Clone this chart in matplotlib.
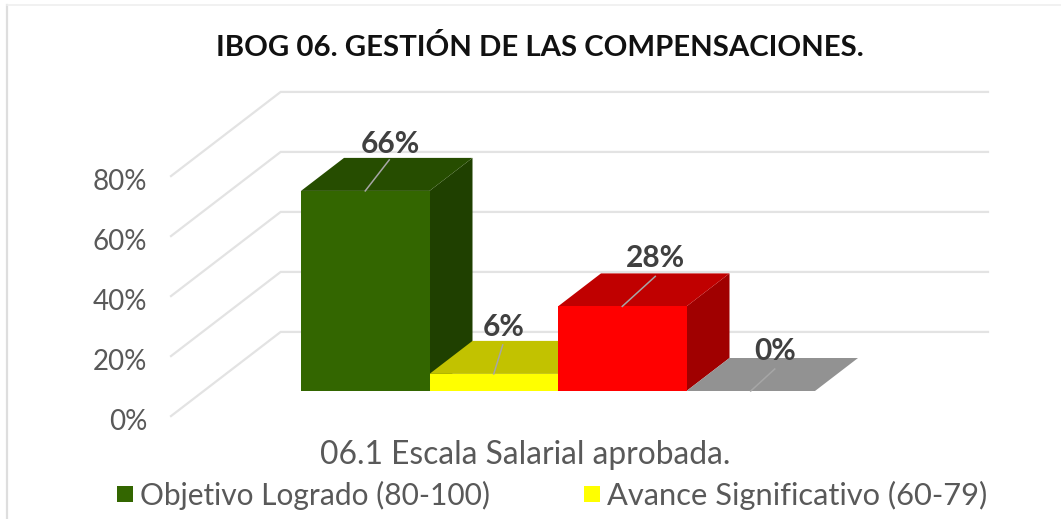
import matplotlib
matplotlib.use("Agg")
import matplotlib.pyplot as plt
from matplotlib.patches import Polygon, Rectangle


TITLE = "IBOG 06. GESTIÓN DE LAS COMPENSACIONES."
CATEGORY = "06.1 Escala Salarial aprobada."
SERIES_NAMES = ["Objetivo Logrado (80-100)", "Avance Significativo (60-79)", "No Logrado", "Sin Avance"]
VALUES = [66.7, 5.7, 28.2, 0]
VALUE_LABELS = ["66%", "6%", "28%", "0%"]
TICKS = [0, 20, 40, 60, 80]
TICK_LABELS = ["0%", "20%", "40%", "60%", "80%"]

FRONT_COLORS = ["#336600", "#ffff00", "#ff0000", "#a6a6a6"]
TOP_COLORS = ["#264d00", "#c2c200", "#c00000", "#929292"]
SIDE_COLORS = ["#1f4000", "#a3a300", "#a00000", "#7f7f7f"]

W, H = 1061, 519
BAR_PX, UNIT_PX = 128.5, 3.0
X0_PX, Y0_PX = 301, 391
DX, DY = 43 / BAR_PX, 33 / UNIT_PX  # depth of one bar, in data units
WALL_FRONT, WALL_BACK = -0.76, 1.79
GRID_COLOR = "#e3e3e3"
BORDER_COLOR = "#dedede"
LEADER_COLOR = "#a6a6a6"
TEXT_COLOR = "#595959"
LABEL_COLOR = "#404040"
# leader end and label centre relative to the bar's front top centre (px)
LEADER_ENDS = [(24, -31), (9, -29), (33, -30), (24, -22)]
LABEL_OFFSETS = [(25, -47), (10, -47), (33, -48), (24, -40)]
# legend: square x, text x, font size
LEGEND_LAYOUT = [(117, 140, 21.5), (584, 607, 22.2)]

plt.rcParams["font.family"] = ["Lato", "DejaVu Sans"]


def project(x, value, depth=0.0):
    return x + depth * DX, value + depth * DY


def draw_bar(ax, i, value):
    left, right = i, i + 1
    front = [project(left, 0), project(right, 0), project(right, value), project(left, value)]
    top = [project(left, value), project(right, value), project(right, value, 1), project(left, value, 1)]
    side = [project(right, 0), project(right, 0, 1), project(right, value, 1), project(right, value)]
    ax.add_patch(Polygon(side, closed=True, fc=SIDE_COLORS[i], ec="none", zorder=3))
    ax.add_patch(Polygon(top, closed=True, fc=TOP_COLORS[i], ec="none", zorder=3))
    ax.add_patch(Polygon(front, closed=True, fc=FRONT_COLORS[i], ec="none", zorder=4))


def main():
    fig = plt.figure(figsize=(W / 100, H / 100), dpi=100)
    ax = fig.add_axes([0, 0, 1, 1])
    ax.set_xlim(-X0_PX / BAR_PX, (W - X0_PX) / BAR_PX)
    ax.set_ylim((Y0_PX - H) / UNIT_PX, Y0_PX / UNIT_PX)
    ax.axis("off")

    grid_right = (988 - X0_PX) / BAR_PX
    grid_left = (171 - X0_PX) / BAR_PX
    for tick, label in zip(TICKS, TICK_LABELS):
        x0, y0 = grid_left, tick + WALL_FRONT * DY
        x1, y1 = grid_left + (WALL_BACK - WALL_FRONT) * DX, tick + WALL_BACK * DY
        ax.plot([x0, x1, grid_right], [y0, y1, y1], color=GRID_COLOR, lw=1.6, zorder=1,
                solid_joinstyle="miter")
        ax.text(grid_left - 24 / BAR_PX, y0 - 6 / UNIT_PX, label, ha="right", va="center",
                fontsize=20, color=TEXT_COLOR)

    for i, value in enumerate(VALUES):
        draw_bar(ax, i, value)

    for i, value in enumerate(VALUES):
        cx = i + 0.5
        ex, ey = LEADER_ENDS[i]
        ax.plot([cx, cx + ex / BAR_PX], [value, value - ey / UNIT_PX], color=LEADER_COLOR, lw=1.1, zorder=5)
        lx, ly = LABEL_OFFSETS[i]
        ax.text(cx + lx / BAR_PX, value - ly / UNIT_PX, VALUE_LABELS[i], ha="center", va="center",
                fontsize=21.5, fontweight="bold", color=LABEL_COLOR, zorder=6)

    fig.text(540 / W, 1 - 47 / H, TITLE, ha="center", va="center", fontsize=21.2,
             fontweight="bold", color="#111111")
    fig.text(525 / W, 1 - 455 / H, CATEGORY, ha="center", va="center", fontsize=22.9, color=TEXT_COLOR)

    for i, (sq_px, txt_px, size) in enumerate(LEGEND_LAYOUT):
        fig.add_artist(Rectangle((sq_px / W, 1 - 502 / H), 16 / W, 16 / H, fc=FRONT_COLORS[i], ec="none",
                                 transform=fig.transFigure))
        fig.text(txt_px / W, 1 - 495 / H, SERIES_NAMES[i], ha="left", va="center", fontsize=size, color=TEXT_COLOR)

    # chart frame: heavier left edge, faint top edge, both cropped by the picture
    fig.add_artist(plt.Line2D([7 / W, 7 / W], [0, 1 - 5 / H], color=BORDER_COLOR, lw=1.6))
    fig.add_artist(plt.Line2D([7 / W, 1], [1 - 5 / H, 1 - 5 / H], color="#efefef", lw=1.2))

    fig.savefig("out.png", dpi=100)
    plt.close(fig)


if __name__ == "__main__":
    main()
